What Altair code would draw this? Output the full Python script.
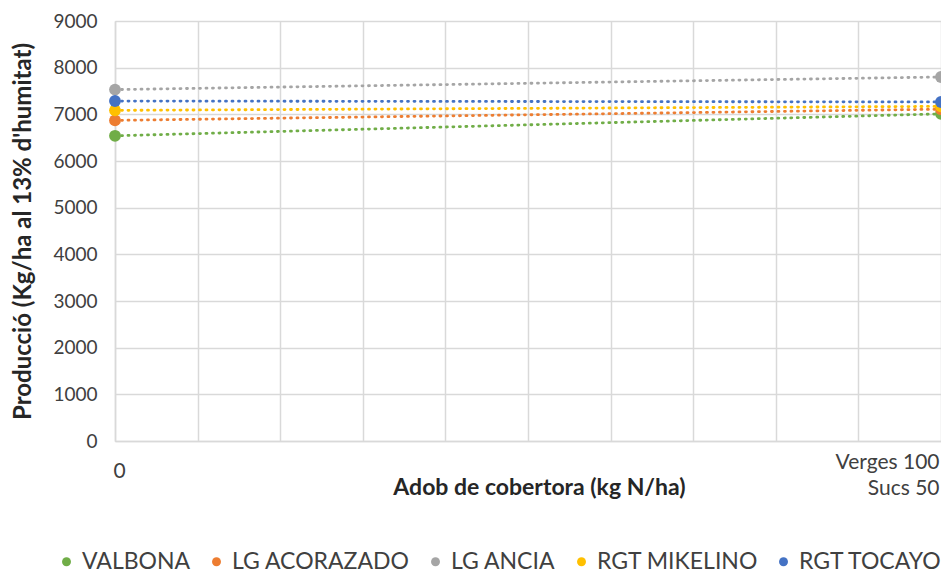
import altair as alt
import pandas as pd

series = ["VALBONA", "LG ACORAZADO", "LG ANCIA", "RGT MIKELINO", "RGT TOCAYO"]
colors = ["#70ad47", "#ed7d31", "#a5a5a5", "#ffc000", "#4472c4"]
x_vals = [0, 100]
start_vals = [6540, 6870, 7530, 7085, 7285]
end_vals = [7010, 7110, 7800, 7170, 7265]

rows = []
for i, s in enumerate(series):
    rows.append({"serie": s, "idx": i, "x": x_vals[0], "y": start_vals[i]})
    rows.append({"serie": s, "idx": i, "x": x_vals[1], "y": end_vals[i]})
df = pd.DataFrame(rows)

FONT = "Lato"
W, H = 826, 420

x_enc = alt.X(
    "x:Q",
    scale=alt.Scale(domain=[0, 100], nice=False),
    axis=alt.Axis(
        values=list(range(0, 101, 10)),
        labelExpr="datum.value == 0 ? '0' : (datum.value == 100 ? ['Verges 100', 'Sucs 50'] : '')",
        labelAlign={"condition": {"test": "datum.value == 0", "value": "center"}, "value": "right"},
        labelPadding={"condition": {"test": "datum.value == 0", "value": 19}, "value": 10},
        labelOffset={"condition": {"test": "datum.value == 0", "value": 4}, "value": -2},
        labelBaseline="top",
        labelFontSize=21,
        labelLineHeight=26,
        labelColor="#404040",
        labelFont=FONT,
        labelOverlap=False,
        labelFlush=False,
        ticks=False,
        grid=True,
        gridColor="#d9d9d9",
        gridWidth=1.5,
        domainColor="#d9d9d9",
        domainWidth=1.5,
        title="Adob de cobertora (kg N/ha)",
        titleFont=FONT,
        titleFontSize=23,
        titleFontWeight="bold",
        titleColor="#262626",
        titleX=424,
        titleY=46,
        titleBaseline="middle",
        titleAlign="center",
    ),
)

y_enc = alt.Y(
    "y:Q",
    scale=alt.Scale(domain=[0, 9000], nice=False),
    axis=alt.Axis(
        values=list(range(0, 9001, 1000)),
        format="d",
        labelFontSize=19,
        labelColor="#404040",
        labelFont=FONT,
        labelPadding=18,
        ticks=False,
        grid=True,
        gridColor="#d9d9d9",
        gridWidth=1.5,
        domainColor="#d9d9d9",
        domainWidth=1.5,
        title="Producció (Kg/ha al 13% d'humitat)",
        titleFont=FONT,
        titleFontSize=24,
        titleFontWeight="bold",
        titleColor="#262626",
        titleX=-92,
        titleY=H / 2,
        titleBaseline="middle",
        titleAlign="center",
        titleAngle=270,
    ),
)

color_enc = alt.Color(
    "serie:N",
    scale=alt.Scale(domain=series, range=colors),
    legend=alt.Legend(
        orient="none",
        direction="horizontal",
        legendX=-60,
        legendY=529,
        padding=0,
        title=None,
        symbolType="circle",
        symbolSize=80,
        labelFontSize=23,
        labelFont=FONT,
        labelColor="#404040",
        labelOffset=4,
        columnPadding=14,
        symbolStrokeWidth=0,
        labelLimit=300,
    ),
)

lines = alt.Chart(df).mark_line(strokeDash=[1, 5.5], strokeWidth=2.8, strokeCap="round").encode(
    x=x_enc, y=y_enc, color=color_enc, detail="serie:N", order="x:Q"
)
points = alt.Chart(df).mark_circle(size=140, opacity=1).encode(
    x=x_enc, y=y_enc, color=color_enc, order="idx:Q"
)

chart = (
    alt.layer(lines, points)
    .properties(
        width=W,
        height=H,
        autosize=alt.AutoSizeParams(type="none"),
        padding={"left": 107, "top": 13, "right": 0, "bottom": 140},
    )
    .configure_view(stroke=None)
    .configure(background="white")
)

chart.save("out.html", embed_options={"renderer": "svg", "actions": False})
